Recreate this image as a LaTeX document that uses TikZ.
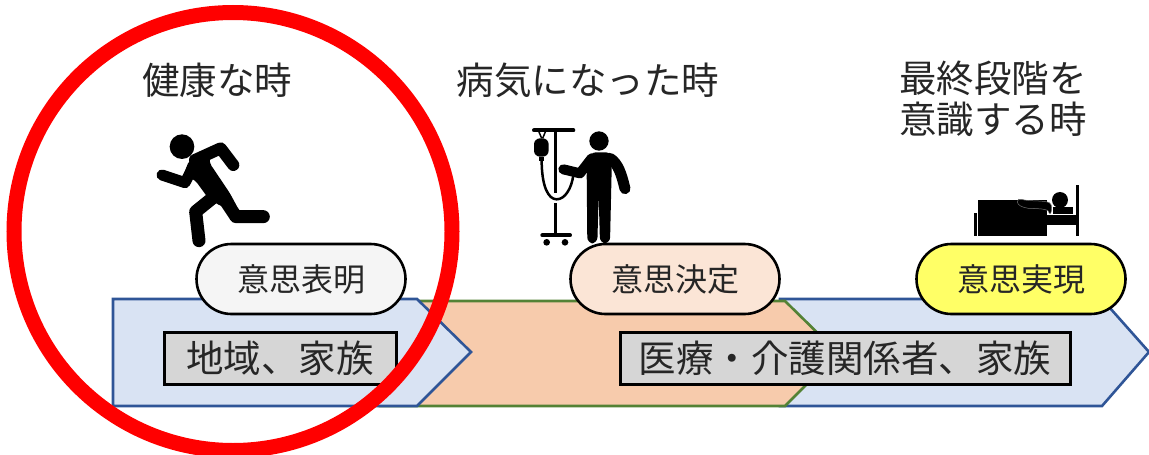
\documentclass[tikz,border=0pt]{standalone}
\usepackage{fontspec}
\setmainfont{Noto Sans CJK JP}[Scale=1]
\usetikzlibrary{shapes.misc}
\definecolor{bluefill}{HTML}{D9E3F3}
\definecolor{blueline}{HTML}{2F5597}
\definecolor{orangefill}{HTML}{F7CBAC}
\definecolor{greenline}{HTML}{548235}
\definecolor{grayfill}{HTML}{D6D6D6}
\definecolor{pillw}{HTML}{F5F5F5}
\definecolor{pillo}{HTML}{FBE5D6}
\definecolor{pilly}{HTML}{FFFF66}
\tikzset{
 bluearrow/.style={draw=blueline,fill=bluefill,line width=2.6pt,line join=miter},
 orangearrow/.style={draw=greenline,fill=orangefill,line width=2.6pt,line join=miter},
 pill/.style={draw=black,line width=2.6pt,rounded rectangle,minimum width=209pt,minimum height=70pt,inner sep=0pt,font=\fontsize{32}{34}\selectfont,text=black!85},
 actor/.style={draw=black,fill=grayfill,line width=3pt,inner sep=0pt,minimum height=52pt,font=\fontsize{37.5}{40}\selectfont,text=black!85},
 heading/.style={inner sep=0pt,align=center,font=\fontsize{37.5}{41}\selectfont,text=black!85},
 limb/.style={draw=black,line cap=round,line join=round}
}
\begin{document}
\begin{tikzpicture}[x=1pt,y=-1pt]
\useasboundingbox (0,0) rectangle (1149,455);
\clip (0,0) rectangle (1149,455);
% arrows
\draw[bluearrow] (780,299) -- (1102,299) -- (1149,352) -- (1102,406) -- (780,406) -- cycle;
\draw[orangearrow] (380,301) -- (785,301) -- (838,353) -- (785,406) -- (380,406) -- cycle;
\draw[bluearrow] (113,299) -- (417,299) -- (471,352) -- (417,406) -- (113,406) -- cycle;
% actor boxes
\node[actor,minimum width=232pt] (local) at (280,358) {地域、家族};
\node[actor,minimum width=450pt] (care) at (845,358) {医療・介護関係者、家族};
% pills
\node[pill,fill=pillw] (p1) at (301,279) {意思表明};
\node[pill,fill=pillo] (p2) at (675,279) {意思決定};
\node[pill,fill=pilly] (p3) at (1021,279) {意思実現};
% headings
\node[heading] (h1) at (217,80) {健康な時};
\node[heading] (h2) at (588,80) {病気になった時};
\node[heading] (h3) at (993,98.5) {最終段階を\\意識する時};
% runner
\begin{scope}[shift={(130,110)},x=0.3333pt,y=-0.3333pt]
\fill (156,110) circle[radius=37];
\draw[limb,line width=11pt] (96,195) -- (165,218) -- (190,170);
\draw[limb,line width=12pt] (195,150) -- (272,115) -- (310,165);
\fill[rounded corners=4pt] (178,150) -- (240,125) -- (238,158) -- (300,250) -- (325,297) -- (275,290) -- (235,265) -- (195,210) -- (160,195) -- cycle;
\draw[limb,line width=13pt] (265,250) -- (197,305) -- (207,392);
\draw[limb,line width=13pt] (275,255) -- (318,320) -- (400,320);
\end{scope}
% patient with drip
\begin{scope}[shift={(510,110)},x=0.3333pt,y=-0.3333pt]
\draw[limb,line width=4pt] (72,61) -- (190,61);
\draw[limb,line width=3.5pt,line cap=butt] (137,61) -- (137,250) (137,280) -- (137,376);
\draw[limb,line width=4pt] (97,376) -- (180,376);
\fill (110,397) circle[radius=10] (165,397) circle[radius=10];
\draw[line width=1.5pt] (85,61) -- (95,85) (108,61) -- (98,85);
\fill[rounded corners=6pt] (72,85) rectangle (116,140);
\fill (88,140) rectangle (102,152);
\draw[line width=2.5pt] (95,150) .. controls (95,230) and (115,268) .. (140,268) .. controls (165,268) and (185,235) .. (190,195);
\fill (267,93) circle[radius=29];
\draw[limb,line width=10pt] (160,178) -- (210,190) -- (245,145);
\draw[limb,line width=11pt] (300,145) .. controls (325,160) and (335,195) .. (345,236);
\fill[rounded corners=6pt] (232,400) -- (230,180) -- (240,127) -- (305,127) -- (305,180) -- (300,400) -- (270,400) -- (266,255) -- (262,400) -- cycle;
\end{scope}
% bed
\begin{scope}[shift={(960,170)},x=0.3333pt,y=-0.3333pt]
\fill (55,90) rectangle (262,197);
\fill (300,90) circle[radius=24];
\fill (278,112) rectangle (338,132);
\fill (262,135) rectangle (350,165);
\draw[limb,line width=2.6pt,line cap=butt] (352,45) -- (352,197);
\draw[limb,line width=3pt,line cap=butt] (45,130) -- (45,197);
\draw[draw=black!55,fill=black,line width=0.5pt] (268,130) .. controls (268,118) and (250,116) .. (205,115) .. controls (185,112) and (172,105) .. (172,95) .. controls (172,88) and (178,85) .. (185,88) .. controls (205,95) and (250,90) .. (268,98) .. controls (278,105) and (276,120) .. (272,130) -- cycle;
\end{scope}
% red ring
\draw[red,line width=15pt] (233,231.5) circle[radius=219];
\end{tikzpicture}
\end{document}
